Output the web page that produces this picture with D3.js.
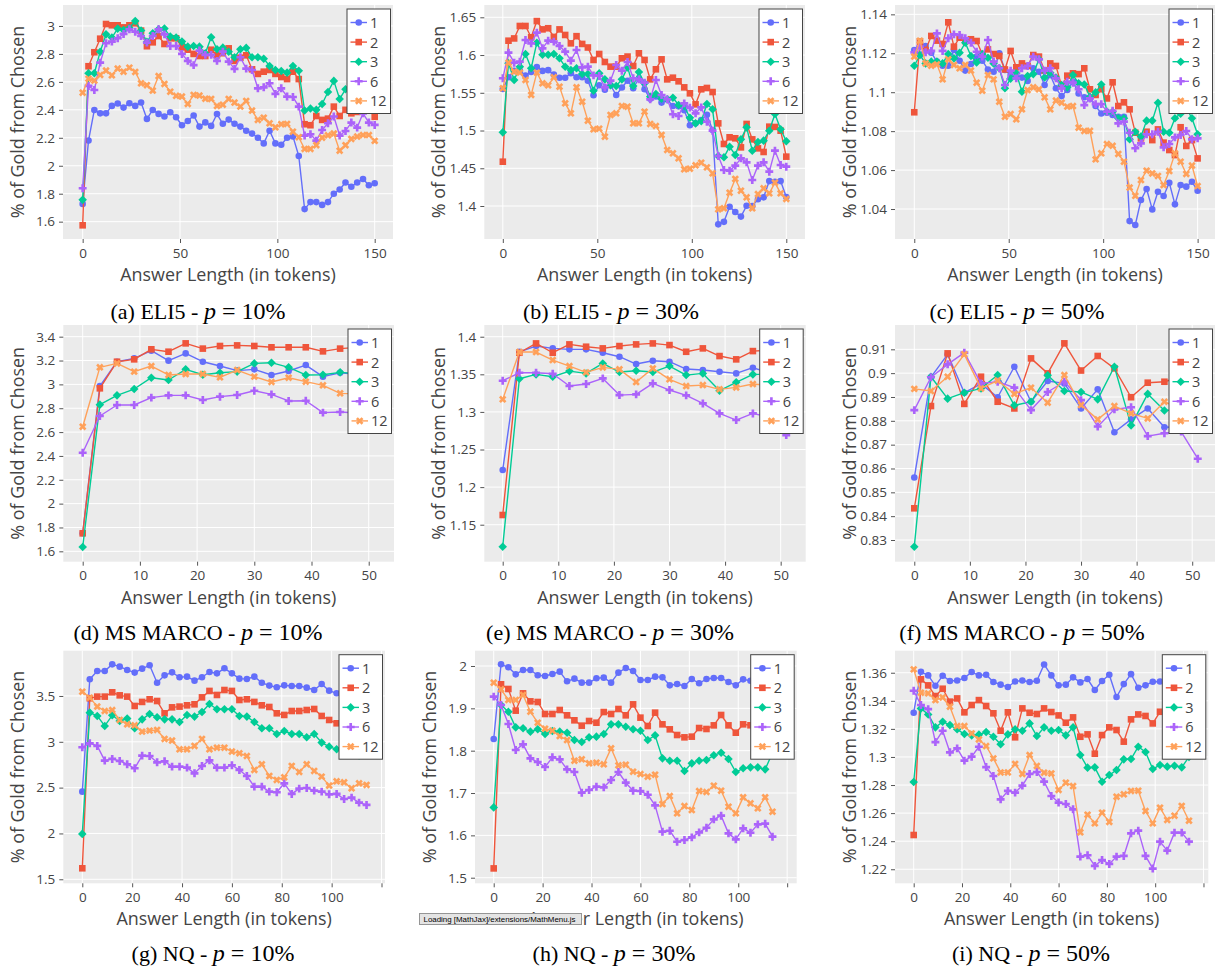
<!DOCTYPE html>
<html>
<head>
<meta charset="utf-8">
<script src="https://cdn.jsdelivr.net/npm/d3@7"></script>
<style>
  body { margin: 0; background: #fff; }
  svg { display: block; }
</style>
</head>
<body>
<svg id="fig" width="1215" height="969"></svg>
<script>
// ---- series identity -------------------------------------------------------
const seriesNames = ["1", "2", "3", "6", "12"];
const seriesColors = ["#636efa", "#EF553B", "#00cc96", "#ab63fa", "#FFA15A"];

// ---- answer lengths (x values) ---------------------------------------------
const eli5Lengths = [0,3,6,9,12,15,18,21,24,27,30,33,36,39,42,45,48,51,54,57,60,63,66,69,72,75,78,81,84,87,90,93,96,99,102,105,108,111,114,117,120,123,126,129,132,135,138,141,144,147,150];
const msmarcoLengths = [0,3,6,9,12,15,18,21,24,27,30,33,36,39,42,45,48,51];
const nqLengths = [0,3,6,9,12,15,18,21,24,27,30,33,36,39,42,45,48,51,54,57,60,63,66,69,72,75,78,81,84,87,90,93,96,99,102,105,108,111,114];

// ---- ELI5 ------------------------------------------------------------------
const eli5P10 = [
  [1.727,2.180,2.399,2.375,2.375,2.428,2.445,2.416,2.447,2.428,2.452,2.335,2.399,2.371,2.352,2.383,2.347,2.29,2.32,2.36,2.28,2.31,2.285,2.37,2.30,2.33,2.30,2.28,2.25,2.23,2.20,2.16,2.25,2.16,2.15,2.20,2.21,2.07,1.69,1.74,1.74,1.72,1.74,1.80,1.83,1.88,1.85,1.88,1.905,1.86,1.875],
  [1.574,2.712,2.812,2.909,3.014,3.005,3.005,2.99,3.005,3.019,2.967,2.855,2.883,2.928,2.871,2.912,2.912,2.847,2.83,2.80,2.785,2.785,2.83,2.79,2.805,2.84,2.75,2.773,2.79,2.69,2.657,2.673,2.685,2.657,2.635,2.62,2.673,2.62,2.297,2.29,2.356,2.328,2.337,2.423,2.356,2.40,2.375,2.385,2.40,2.41,2.35],
  [1.756,2.662,2.662,2.816,2.94,2.917,2.981,2.971,2.986,3.036,2.967,2.886,2.948,2.976,2.981,2.924,2.917,2.888,2.852,2.857,2.852,2.805,2.919,2.833,2.845,2.816,2.776,2.833,2.843,2.776,2.776,2.766,2.714,2.685,2.678,2.666,2.714,2.68,2.395,2.409,2.40,2.442,2.528,2.607,2.478,2.547,2.56,2.6,2.58,2.57,2.58],
  [1.839,2.571,2.542,2.738,2.876,2.888,2.912,2.943,2.976,2.959,2.928,2.881,2.928,2.976,2.94,2.857,2.857,2.80,2.75,2.72,2.824,2.793,2.793,2.75,2.816,2.745,2.693,2.776,2.695,2.685,2.554,2.561,2.59,2.514,2.554,2.495,2.492,2.423,2.216,2.225,2.18,2.256,2.304,2.352,2.216,2.249,2.309,2.273,2.375,2.309,2.292],
  [2.523,2.623,2.609,2.65,2.681,2.647,2.695,2.673,2.702,2.671,2.59,2.576,2.538,2.642,2.585,2.53,2.50,2.495,2.442,2.507,2.502,2.48,2.478,2.428,2.437,2.478,2.452,2.423,2.464,2.395,2.328,2.344,2.304,2.275,2.297,2.299,2.244,2.204,2.12,2.12,2.147,2.201,2.218,2.23,2.108,2.147,2.192,2.209,2.22,2.22,2.178]
];
const eli5P30 = [
  [1.555,1.5705,1.579,1.579,1.573,1.5775,1.584,1.579,1.580,1.574,1.570,1.570,1.576,1.5705,1.5705,1.566,1.5467,1.56,1.554,1.56,1.547,1.557,1.566,1.556,1.569,1.5546,1.542,1.545,1.537,1.541,1.5325,1.532,1.527,1.507,1.5095,1.514,1.521,1.5007,1.3757,1.379,1.399,1.392,1.386,1.4004,1.40,1.409,1.4115,1.433,1.432,1.433,1.412],
  [1.4587,1.619,1.622,1.6385,1.6385,1.6235,1.645,1.634,1.6355,1.624,1.634,1.6266,1.6155,1.625,1.6147,1.610,1.5935,1.6014,1.5908,1.5846,1.5846,1.5957,1.598,1.5855,1.6023,1.5935,1.5678,1.5811,1.5943,1.5678,1.570,1.5652,1.5572,1.5493,1.5347,1.5546,1.5564,1.551,1.5095,1.4822,1.491,1.4897,1.4777,1.5087,1.4883,1.4764,1.4716,1.5051,1.5047,1.4998,1.4654],
  [1.4976,1.589,1.567,1.5846,1.6014,1.5824,1.6164,1.6005,1.6005,1.6014,1.5957,1.5846,1.5802,1.5824,1.5749,1.5749,1.5528,1.5758,1.5678,1.5599,1.559,1.5678,1.5837,1.559,1.5776,1.5625,1.5449,1.5484,1.5422,1.5413,1.5435,1.5338,1.5325,1.517,1.5095,1.5122,1.5352,1.5281,1.4663,1.4645,1.4786,1.4676,1.4883,1.5042,1.4733,1.4848,1.4866,1.4998,1.5219,1.5016,1.4857],
  [1.5692,1.6032,1.5899,1.5913,1.62,1.6155,1.6297,1.6089,1.6191,1.6178,1.612,1.6045,1.5926,1.6067,1.5837,1.5846,1.5731,1.5723,1.5572,1.5661,1.5868,1.5793,1.5908,1.5692,1.5678,1.5634,1.5413,1.567,1.5471,1.5413,1.5215,1.5193,1.536,1.5303,1.5228,1.5307,1.5117,1.4998,1.4663,1.4477,1.4468,1.4535,1.4632,1.4579,1.4345,1.4535,1.4579,1.4455,1.4733,1.4543,1.4521],
  [1.5559,1.5899,1.578,1.5767,1.567,1.5471,1.5767,1.5625,1.5599,1.5705,1.5581,1.536,1.5228,1.5572,1.5382,1.5131,1.5016,1.5025,1.4919,1.5206,1.5228,1.5325,1.5316,1.5095,1.5095,1.525,1.5087,1.506,1.4941,1.4742,1.4698,1.4632,1.4486,1.4495,1.4539,1.4574,1.4512,1.4433,1.3956,1.3969,1.4177,1.4358,1.4203,1.4115,1.3969,1.4159,1.4234,1.4168,1.4309,1.4168,1.4093]
];
const eli5P50 = [
  [1.1217,1.1191,1.1237,1.1203,1.1157,1.1136,1.1136,1.1217,1.1162,1.1111,1.1145,1.1183,1.1162,1.1117,1.1105,1.12,1.1114,1.1088,1.108,1.1075,1.1058,1.1123,1.1105,1.1037,1.1088,1.102,1.098,1.1011,1.1054,1.0994,1.0974,1.0968,1.0929,1.0891,1.0895,1.0883,1.0874,1.0874,1.0338,1.0318,1.0446,1.0503,1.0398,1.0489,1.0467,1.0535,1.0424,1.0523,1.0515,1.054,1.0494],
  [1.0897,1.126,1.1217,1.1289,1.1265,1.1248,1.1359,1.1234,1.128,1.1263,1.1272,1.1263,1.1196,1.122,1.1196,1.1186,1.1117,1.1212,1.1128,1.1148,1.1135,1.1191,1.1183,1.1111,1.1148,1.1135,1.1032,1.1085,1.1097,1.1093,1.1123,1.1015,1.0986,1.1015,1.0968,1.1051,1.0929,1.0948,1.0912,1.0792,1.0763,1.0797,1.0754,1.0809,1.0741,1.0703,1.0677,1.082,1.0724,1.0754,1.066],
  [1.1136,1.1191,1.1148,1.1157,1.1157,1.1148,1.1196,1.1174,1.1203,1.1254,1.1186,1.1153,1.1196,1.1177,1.1148,1.1123,1.102,1.107,1.1097,1.1003,1.1083,1.1093,1.1169,1.1076,1.11,1.1076,1.1037,1.1025,1.1088,1.1046,1.104,1.0977,1.0999,1.104,1.09,1.09,1.0866,1.0866,1.0758,1.0797,1.0772,1.0854,1.0854,1.0946,1.0797,1.0792,1.0866,1.089,1.092,1.0866,1.0784],
  [1.1205,1.1234,1.1205,1.1212,1.1302,1.1212,1.1277,1.1297,1.1294,1.1277,1.1254,1.1208,1.1183,1.1268,1.1157,1.1123,1.1037,1.1111,1.1071,1.1123,1.1135,1.1183,1.1169,1.1111,1.1123,1.1071,1.102,1.1054,1.1049,1.1015,1.0934,1.0968,1.0939,1.0939,1.09,1.0905,1.084,1.0849,1.0792,1.0712,1.0737,1.0784,1.0784,1.0797,1.0717,1.0734,1.0768,1.078,1.0801,1.0758,1.0763],
  [1.1183,1.1265,1.1148,1.1136,1.1143,1.1066,1.1169,1.114,1.1123,1.114,1.1111,1.1049,1.1008,1.1088,1.1066,1.0951,1.0874,1.0888,1.0861,1.0912,1.1011,1.1025,1.1015,1.0974,1.0912,1.0957,1.0946,1.0926,1.0929,1.0818,1.0801,1.0802,1.0655,1.0686,1.0734,1.0725,1.0683,1.0643,1.051,1.0468,1.0549,1.0597,1.0583,1.057,1.0523,1.0595,1.0686,1.0643,1.058,1.0623,1.0518]
];

// ---- MS MARCO --------------------------------------------------------------
const msmarcoP10 = [
  [1.751,2.986,3.19,3.218,3.283,3.199,3.26,3.19,3.154,3.115,3.126,3.079,3.112,3.162,3.065,3.098,3.085,3.07],
  [1.751,2.967,3.19,3.21,3.294,3.274,3.344,3.30,3.322,3.327,3.322,3.311,3.311,3.311,3.277,3.30,3.31,3.30],
  [1.636,2.83,2.908,2.961,3.056,3.037,3.126,3.081,3.098,3.107,3.176,3.182,3.143,3.079,3.081,3.101,3.09,3.10],
  [2.427,2.735,2.827,2.827,2.889,2.908,2.908,2.869,2.897,2.911,2.947,2.916,2.861,2.863,2.763,2.768,2.76,2.74],
  [2.645,3.143,3.176,3.107,3.154,3.079,3.087,3.087,3.059,3.12,3.065,3.02,3.056,3.023,2.992,2.925,2.92,2.93]
];
const msmarcoP30 = [
  [1.2227,1.38,1.3876,1.3845,1.3832,1.3832,1.3787,1.3734,1.3637,1.3681,1.3668,1.357,1.3557,1.3535,1.3512,1.3588,1.352,1.353],
  [1.1629,1.3787,1.3911,1.3787,1.3898,1.3867,1.3845,1.3876,1.3898,1.3911,1.3889,1.38,1.3845,1.3743,1.3699,1.3809,1.382,1.38],
  [1.1207,1.3441,1.3499,1.3468,1.3543,1.3512,1.3645,1.353,1.3548,1.353,1.361,1.349,1.3512,1.3282,1.3393,1.3499,1.35,1.352],
  [1.3415,1.3521,1.3521,1.3508,1.3344,1.3371,1.3446,1.3224,1.3233,1.3379,1.3291,1.322,1.3113,1.298,1.2892,1.298,1.293,1.2692],
  [1.3167,1.3796,1.3796,1.369,1.361,1.3526,1.3592,1.3566,1.3397,1.3579,1.3433,1.3344,1.3357,1.33,1.3326,1.3371,1.335,1.336]
];
const msmarcoP50 = [
  [0.8562,0.8983,0.9079,0.8918,0.8955,0.8899,0.9027,0.888,0.8967,0.8957,0.8852,0.8932,0.8752,0.8806,0.8852,0.8773,0.8775,0.879],
  [0.8433,0.8862,0.9083,0.8871,0.8985,0.888,0.8852,0.9062,0.8999,0.9125,0.9011,0.9072,0.902,0.8899,0.896,0.8964,0.8985,0.899],
  [0.8272,0.8985,0.8893,0.8918,0.8936,0.8992,0.8865,0.888,0.8991,0.8925,0.8921,0.889,0.9027,0.8781,0.8913,0.8843,0.885,0.884],
  [0.8845,0.8983,0.9037,0.9086,0.8957,0.8964,0.8939,0.8845,0.8921,0.8964,0.8887,0.8776,0.8848,0.8857,0.8736,0.8748,0.8755,0.8641],
  [0.8934,0.8925,0.8985,0.9079,0.8936,0.8969,0.8913,0.8939,0.8876,0.8992,0.8866,0.8806,0.8862,0.8831,0.881,0.888,0.885,0.884]
];

// ---- NQ --------------------------------------------------------------------
const nqP10 = [
  [2.456,3.682,3.773,3.773,3.845,3.82,3.784,3.755,3.798,3.835,3.645,3.725,3.758,3.704,3.711,3.667,3.704,3.762,3.747,3.802,3.747,3.689,3.685,3.711,3.645,3.613,3.595,3.616,3.609,3.609,3.591,3.565,3.631,3.558,3.529,3.52,3.50,3.48,3.49],
  [1.62,3.475,3.493,3.493,3.54,3.507,3.493,3.391,3.435,3.464,3.445,3.311,3.376,3.384,3.398,3.409,3.485,3.555,3.511,3.565,3.555,3.456,3.464,3.435,3.398,3.38,3.311,3.293,3.336,3.336,3.347,3.358,3.282,3.238,3.202,3.22,3.17,3.15,3.13],
  [1.995,3.318,3.282,3.173,3.289,3.227,3.253,3.147,3.245,3.304,3.267,3.245,3.245,3.216,3.293,3.275,3.325,3.413,3.355,3.355,3.355,3.282,3.275,3.216,3.147,3.147,3.085,3.118,3.085,3.085,3.049,3.085,2.991,2.947,2.918,2.93,2.89,2.85,2.86],
  [2.94,2.984,2.955,2.795,2.813,2.791,2.755,2.711,2.849,2.845,2.776,2.787,2.729,2.729,2.718,2.656,2.736,2.798,2.718,2.718,2.744,2.693,2.627,2.511,2.511,2.456,2.449,2.547,2.431,2.489,2.496,2.467,2.456,2.427,2.431,2.376,2.391,2.336,2.311],
  [3.547,3.482,3.384,3.336,3.347,3.238,3.191,3.18,3.111,3.122,3.129,3.031,3.013,2.918,2.918,2.955,3.031,2.918,2.936,2.936,2.893,2.875,2.845,2.693,2.755,2.627,2.584,2.613,2.736,2.671,2.755,2.682,2.62,2.522,2.569,2.558,2.493,2.547,2.529]
];
const nqP30 = [
  [1.8276,2.004,1.9969,1.9803,1.9906,1.9906,1.978,1.9764,1.9811,1.9866,1.9638,1.9701,1.9606,1.9606,1.9709,1.9724,1.9606,1.9843,1.9953,1.9882,1.9669,1.9669,1.9748,1.9732,1.9543,1.9575,1.9528,1.9693,1.9591,1.9693,1.9717,1.9717,1.9622,1.9543,1.9685,1.965,1.96,1.965,1.97],
  [1.522,1.9567,1.9457,1.8945,1.9354,1.9165,1.915,1.8866,1.8866,1.8961,1.8835,1.8717,1.8591,1.8701,1.8661,1.8913,1.8866,1.8984,1.8835,1.9094,1.878,1.8583,1.8898,1.8622,1.8504,1.837,1.8315,1.8331,1.8535,1.8512,1.8598,1.8843,1.8598,1.8425,1.8622,1.86,1.86,1.855,1.86],
  [1.6661,1.9079,1.8921,1.8551,1.8528,1.8449,1.8504,1.8394,1.8465,1.8449,1.8425,1.8252,1.8205,1.8315,1.8331,1.8394,1.8622,1.8622,1.8567,1.8504,1.8472,1.8252,1.8362,1.7819,1.7764,1.7764,1.752,1.7701,1.7764,1.778,1.789,1.7953,1.7803,1.7496,1.7583,1.7606,1.7606,1.7559,1.795],
  [1.9276,1.9079,1.863,1.8016,1.815,1.7819,1.7732,1.7614,1.7843,1.7795,1.7559,1.7496,1.7008,1.7071,1.715,1.7134,1.7307,1.7496,1.7244,1.7055,1.7047,1.696,1.6709,1.6087,1.611,1.585,1.589,1.5953,1.6071,1.6181,1.6378,1.6465,1.6047,1.5906,1.6165,1.6063,1.626,1.6276,1.5969],
  [1.9606,1.9449,1.9197,1.9197,1.9315,1.8921,1.8661,1.852,1.8472,1.8346,1.8252,1.7764,1.7795,1.7701,1.7717,1.7677,1.8055,1.7654,1.7669,1.7504,1.7449,1.7386,1.7433,1.674,1.6929,1.652,1.6693,1.6598,1.7047,1.7024,1.7173,1.7055,1.6677,1.652,1.6898,1.6756,1.6638,1.6898,1.6559]
];
const nqP50 = [
  [1.3315,1.3607,1.3581,1.3507,1.3579,1.3541,1.3545,1.3562,1.3605,1.3581,1.3586,1.3534,1.3515,1.3498,1.3538,1.3545,1.3534,1.3543,1.3659,1.3581,1.351,1.3515,1.3567,1.3531,1.3555,1.3477,1.3541,1.3586,1.3427,1.3519,1.359,1.3493,1.351,1.3536,1.3538,1.353,1.352,1.355,1.354],
  [1.2444,1.3553,1.351,1.3434,1.3486,1.3394,1.3417,1.3318,1.337,1.3405,1.3363,1.3311,1.3187,1.3318,1.314,1.3346,1.3315,1.3306,1.3346,1.332,1.3296,1.3244,1.3282,1.3144,1.3161,1.3023,1.3156,1.3211,1.3192,1.3109,1.3268,1.3303,1.3292,1.3239,1.3322,1.333,1.335,1.33,1.335],
  [1.2822,1.3346,1.3303,1.3211,1.3251,1.3227,1.3197,1.3163,1.3154,1.3159,1.3178,1.3144,1.309,1.3161,1.3197,1.3187,1.3239,1.3149,1.3211,1.3187,1.3192,1.3154,1.3211,1.3014,1.2924,1.2926,1.2824,1.2871,1.2907,1.2983,1.2985,1.3073,1.3035,1.2914,1.2943,1.2931,1.2938,1.2926,1.30],
  [1.3472,1.337,1.3341,1.3106,1.3187,1.3033,1.3061,1.2974,1.3002,1.3073,1.2928,1.2864,1.2698,1.2758,1.2746,1.2796,1.2879,1.2893,1.2824,1.2722,1.2675,1.2665,1.2627,1.229,1.23,1.2224,1.2266,1.2238,1.229,1.2295,1.2456,1.2475,1.2295,1.2205,1.2397,1.2333,1.2461,1.2461,1.2397],
  [1.3624,1.3458,1.3453,1.3405,1.3424,1.3358,1.322,1.322,1.3168,1.3125,1.3078,1.299,1.289,1.289,1.295,1.2879,1.3014,1.2936,1.2888,1.2883,1.2765,1.2817,1.2793,1.2463,1.2589,1.2527,1.2603,1.2537,1.2717,1.2734,1.2758,1.276,1.2615,1.2527,1.2639,1.2551,1.2582,1.2651,1.2546]
];

// ---- tick values -----------------------------------------------------------
const eli5XTicks = [0, 50, 100, 150];
const msmarcoXTicks = [0, 10, 20, 30, 40, 50];
const nqXTicks = [0, 20, 40, 60, 80, 100, 120];
const yTicksA = [1.6, 1.8, 2, 2.2, 2.4, 2.6, 2.8, 3];
const yTicksB = [1.4, 1.45, 1.5, 1.55, 1.6, 1.65];
const yTicksC = [1.04, 1.06, 1.08, 1.1, 1.12, 1.14];
const yTicksD = [1.6, 1.8, 2, 2.2, 2.4, 2.6, 2.8, 3, 3.2, 3.4];
const yTicksE = [1.15, 1.2, 1.25, 1.3, 1.35, 1.4];
const yTicksF = [0.83, 0.84, 0.85, 0.86, 0.87, 0.88, 0.89, 0.9, 0.91];
const yTicksG = [1.5, 2, 2.5, 3, 3.5];
const yTicksH = [1.5, 1.6, 1.7, 1.8, 1.9, 2];
const yTicksI = [1.22, 1.24, 1.26, 1.28, 1.3, 1.32, 1.34, 1.36];

// ---- panel layout ----------------------------------------------------------
const panels = [
  { series: eli5P10, xs: eli5Lengths, xTicks: eli5XTicks, yTicks: yTicksA, tag: "(a) ELI5 - ", pct: "10%",
    box: { l: 63, r: 393, t: 5, b: 239 }, xDom: [-10.1, 159.4], yDom: [1.476, 3.150], cx: 198, cy: 319 },
  { series: eli5P30, xs: eli5Lengths, xTicks: eli5XTicks, yTicks: yTicksB, tag: "(b) ELI5 - ", pct: "30%",
    box: { l: 484.3, r: 805, t: 5, b: 239 }, xDom: [-9.8, 159.9], yDom: [1.3563, 1.6663], cx: 611, cy: 319 },
  { series: eli5P50, xs: eli5Lengths, xTicks: eli5XTicks, yTicks: yTicksC, tag: "(c) ELI5 - ", pct: "50%",
    box: { l: 895, r: 1215, t: 5, b: 239 }, xDom: [-10.2, 159.2], yDom: [1.0246, 1.1448], cx: 1017, cy: 319 },
  { series: msmarcoP10, xs: msmarcoLengths, xTicks: msmarcoXTicks, yTicks: yTicksD, tag: "(d) MS MARCO - ", pct: "10%",
    box: { l: 63.3, r: 394, t: 325, b: 561.7 }, xDom: [-3.39, 54.42], yDom: [1.513, 3.498], cx: 198, cy: 640 },
  { series: msmarcoP30, xs: msmarcoLengths, xTicks: msmarcoXTicks, yTicks: yTicksE, tag: "(e) MS MARCO - ", pct: "30%",
    box: { l: 484.3, r: 805.7, t: 325, b: 561.7 }, xDom: [-3.31, 54.5], yDom: [1.1008, 1.4156], cx: 610, cy: 640 },
  { series: msmarcoP50, xs: msmarcoLengths, xTicks: msmarcoXTicks, yTicks: yTicksF, tag: "(f) MS MARCO - ", pct: "50%",
    box: { l: 895, r: 1215, t: 325, b: 561.7 }, xDom: [-3.47, 54.1], yDom: [0.8209, 0.9202], cx: 1022, cy: 640 },
  { series: nqP10, xs: nqLengths, xTicks: nqXTicks, yTicks: yTicksG, tag: "(g) NQ - ", pct: "10%",
    box: { l: 63.3, r: 385, t: 650.7, b: 883.3 }, xDom: [-7.62, 121.4], yDom: [1.456, 3.994], cx: 213, cy: 961 },
  { series: nqP30, xs: nqLengths, xTicks: nqXTicks, yTicks: yTicksH, tag: "(h) NQ - ", pct: "30%",
    box: { l: 475, r: 796.7, t: 650.7, b: 883.3 }, xDom: [-7.65, 123.9], yDom: [1.4868, 2.0361], cx: 614, cy: 961 },
  { series: nqP50, xs: nqLengths, xTicks: nqXTicks, yTicks: yTicksI, tag: "(i) NQ - ", pct: "50%",
    box: { l: 895, r: 1208.3, t: 650.7, b: 883.3 }, xDom: [-7.74, 122], yDom: [1.2100, 1.3757], cx: 1031, cy: 961 }
];

const FONT = "'Open Sans', 'DejaVu Sans', Verdana, sans-serif";
const SERIF = "'Liberation Serif', 'Times New Roman', serif";
const MARKER_R = 3.3;

// marker shapes in the order of the series: circle, square, diamond, cross, x
function markerPath(i, r) {
  if (i === 0) return `M${r},0A${r},${r} 0 1,1 0,-${r}A${r},${r} 0 0,1 ${r},0Z`;
  if (i === 1) return `M${r},${r}H${-r}V${-r}H${r}Z`;
  if (i === 2) { const d = r * 1.3; return `M${d},0L0,${d}L${-d},0L0,${-d}Z`; }
  if (i === 3) {
    const a = r * 1.2, b = r * 0.4;
    return `M${a},${b}H${b}V${a}H${-b}V${b}H${-a}V${-b}H${-b}V${-a}H${b}V${-b}H${a}Z`;
  }
  const k = +(r * 0.8 / Math.SQRT2).toFixed(2);
  const ne = `l${k},${k}`, se = `l${k},${-k}`, sw = `l${-k},${-k}`, nw = `l${-k},${k}`;
  return `M0,${k}` + ne + se + sw + se + sw + nw + sw + nw + ne + nw + ne + "Z";
}

const svg = d3.select("#fig");
svg.append("rect").attr("width", 1215).attr("height", 969).attr("fill", "#fff");

panels.forEach((p) => {
  const g = svg.append("g");
  const { l, r, t, b } = p.box;
  const x = d3.scaleLinear().domain(p.xDom).range([l, r]);
  const y = d3.scaleLinear().domain(p.yDom).range([b, t]);

  // plot background
  g.append("rect").attr("x", l).attr("y", t).attr("width", r - l).attr("height", b - t).attr("fill", "#ebebeb");

  // white grid
  g.append("g").selectAll("line").data(p.yTicks).join("line")
    .attr("x1", l).attr("x2", r).attr("y1", d => y(d)).attr("y2", d => y(d))
    .attr("stroke", "#fff").attr("stroke-width", 1);
  g.append("g").selectAll("line").data(p.xTicks.filter(v => x(v) <= r)).join("line")
    .attr("y1", t).attr("y2", b).attr("x1", d => x(d)).attr("x2", d => x(d))
    .attr("stroke", "#fff").attr("stroke-width", 1);

  // axes
  const yAxis = d3.axisLeft(y).tickValues(p.yTicks).tickSize(4).tickPadding(4).tickFormat(d3.format("~g"));
  const xAxis = d3.axisBottom(x).tickValues(p.xTicks).tickSize(4).tickPadding(5)
    .tickFormat(d => (x(d) > r - 12 && d > 100 ? "" : d3.format("~g")(d)));
  const ya = g.append("g").attr("transform", `translate(${l},0)`).call(yAxis);
  const xa = g.append("g").attr("transform", `translate(0,${b})`).call(xAxis);
  [ya, xa].forEach(a => {
    a.select(".domain").remove();
    a.selectAll(".tick line").attr("stroke", "#555");
    a.selectAll("text").attr("fill", "#444").style("font-family", FONT).style("font-size", "13.5px");
  });

  // axis titles
  g.append("text").attr("x", (l + r) / 2).attr("y", b + 42)
    .attr("text-anchor", "middle").attr("fill", "#444")
    .style("font-family", FONT).style("font-size", "17.9px")
    .text("Answer Length (in tokens)");
  g.append("text").attr("transform", `translate(${l - 46},${(t + b) / 2}) rotate(-90)`)
    .attr("text-anchor", "middle").attr("dominant-baseline", "central").attr("fill", "#444")
    .style("font-family", FONT).style("font-size", "17.9px")
    .text("% of Gold from Chosen");

  // series: one group per series, line under its markers
  const plot = g.append("g");
  p.series.forEach((vals, si) => {
    const pts = vals.map((v, i) => [p.xs[i], v]);
    const tg = plot.append("g");
    tg.append("path").datum(pts)
      .attr("d", d3.line().x(d => x(d[0])).y(d => y(d[1])))
      .attr("fill", "none").attr("stroke", seriesColors[si]).attr("stroke-width", 1.4)
      .attr("stroke-linejoin", "round");
    tg.selectAll("path.m").data(pts).join("path").attr("class", "m")
      .attr("transform", d => `translate(${x(d[0])},${y(d[1])})`)
      .attr("d", markerPath(si, MARKER_R)).attr("fill", seriesColors[si]);
  });

  // legend
  const lw = 43.5, lh = 104.5;
  const lg = g.append("g").attr("transform", `translate(${r - 2.5 - lw},${t + 4})`);
  lg.append("rect").attr("x", 0).attr("y", 0).attr("width", lw).attr("height", lh)
    .attr("fill", "#fff").attr("stroke", "#444").attr("stroke-width", 1);
  seriesNames.forEach((name, si) => {
    const ry = 13.5 + si * 19.6;
    lg.append("line").attr("x1", 3.5).attr("x2", 20).attr("y1", ry).attr("y2", ry)
      .attr("stroke", seriesColors[si]).attr("stroke-width", 1.4);
    lg.append("path").attr("transform", `translate(11.7,${ry})`)
      .attr("d", markerPath(si, MARKER_R)).attr("fill", seriesColors[si]);
    lg.append("text").attr("x", 23).attr("y", ry).attr("dominant-baseline", "central")
      .attr("fill", "#444").style("font-family", FONT).style("font-size", "14.5px").text(name);
  });

  // caption below the panel, with the inline math set slightly larger
  const cap = svg.append("text").attr("x", p.cx).attr("y", p.cy).attr("text-anchor", "middle")
    .attr("fill", "#000").style("font-family", SERIF).style("font-size", "22px");
  cap.append("tspan").text(p.tag);
  cap.append("tspan").style("font-style", "italic").style("font-size", "24px").text("p");
  cap.append("tspan").style("font-size", "24px").attr("dx", 6).text("=");
  cap.append("tspan").style("font-size", "24px").attr("dx", 6).text(p.pct);
});

// MathJax loading notice overlaid near panel (h)
const note = svg.append("g").attr("transform", "translate(419.5,913.5)");
note.append("rect").attr("width", 162).attr("height", 11).attr("fill", "#e4e4e4").attr("stroke", "#959595").attr("stroke-width", 1);
note.append("text").attr("x", 4).attr("y", 8.3).attr("fill", "#000")
  .attr("textLength", 152).attr("lengthAdjust", "spacingAndGlyphs")
  .style("font-family", "'Liberation Sans', Arial, sans-serif").style("font-size", "8px")
  .text("Loading [MathJax]/extensions/MathMenu.js");
</script>
</body>
</html>
